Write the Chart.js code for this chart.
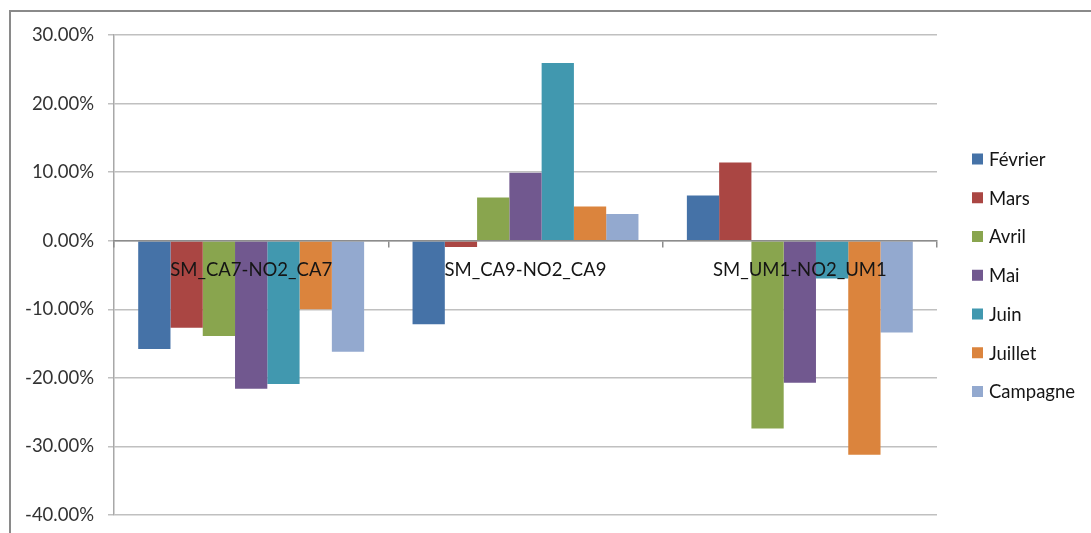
<!DOCTYPE html>
<html>
<head>
<meta charset="utf-8">
<script src="https://cdn.jsdelivr.net/npm/chart.js@4/dist/chart.umd.min.js"></script>
<style>
  html, body { margin: 0; padding: 0; background: #ffffff; }
  #wrap { position: relative; width: 1091px; height: 533px; }
</style>
</head>
<body>
<div id="wrap"><canvas id="c" width="1091" height="533"></canvas></div>
<script>
// Stations (categories) and monthly relative differences, in percent
const categories = ['SM_CA7-NO2_CA7', 'SM_CA9-NO2_CA9', 'SM_UM1-NO2_UM1'];
const fevrier  = [-15.8, -12.2,   6.6];
const mars     = [-12.7,  -0.9,  11.4];
const avril    = [-13.9,   6.3, -27.4];
const mai      = [-21.6,   9.9, -20.7];
const juin     = [-20.9,  25.9,  -5.5];
const juillet  = [-10.0,   5.0, -31.2];
const campagne = [-16.2,   3.9, -13.4];
const seriesNames = ['Février', 'Mars', 'Avril', 'Mai', 'Juin', 'Juillet', 'Campagne'];
const yTicks = [30, 20, 10, 0, -10, -20, -30, -40];

const seriesValues = [fevrier, mars, avril, mai, juin, juillet, campagne];
const seriesColors = ['#4572A7', '#AA4643', '#89A54E', '#71588F', '#4198AF', '#DB843D', '#93A9CF'];

const FONT = 'Lato, "Liberation Sans", Arial, sans-serif';
const FONT_SIZE = 18.5;
const TEXT = '#151515';
const TICK_TEXT = '#333333';

// Outer frame of the chart object
const framePlugin = {
  id: 'frame',
  beforeDraw(chart) {
    const ctx = chart.ctx;
    ctx.save();
    ctx.fillStyle = '#ffffff';
    ctx.fillRect(0, 0, chart.width, chart.height);
    ctx.strokeStyle = '#8a8a8a';
    ctx.lineWidth = 2;
    ctx.strokeRect(10, 11, 1100, 560);
    ctx.restore();
  }
};

// Vertical legend on the right, built from the datasets
const sideLegend = {
  id: 'sideLegend',
  afterDraw(chart) {
    const ctx = chart.ctx;
    ctx.save();
    ctx.font = FONT_SIZE + 'px ' + FONT;
    ctx.textBaseline = 'middle';
    ctx.textAlign = 'left';
    chart.data.datasets.forEach((ds, i) => {
      const y = 159 + i * 38.75;
      ctx.fillStyle = ds.backgroundColor;
      ctx.fillRect(972, y - 5.5, 11, 11);
      ctx.fillStyle = TEXT;
      ctx.fillText(ds.label, 989, y + 1);
    });
    ctx.restore();
  }
};

new Chart(document.getElementById('c'), {
  type: 'bar',
  data: {
    labels: categories,
    datasets: seriesNames.map((name, i) => ({
      label: name,
      data: seriesValues[i],
      backgroundColor: seriesColors[i],
      borderWidth: 0,
      categoryPercentage: 7 / 8.5,
      barPercentage: 1
    }))
  },
  options: {
    responsive: false,
    animation: false,
    devicePixelRatio: 1,
    layout: { padding: { left: 0, top: 35, right: 154, bottom: 18 } },
    plugins: {
      legend: { display: false },
      tooltip: { enabled: false }
    },
    scales: {
      x: {
        position: { y: 0 },
        afterFit(scale) { scale.height = 0; },
        grid: {
          offset: true,
          drawOnChartArea: false,
          drawTicks: true,
          tickLength: 6,
          color: '#8c8c8c',
          lineWidth: 1.5,
          z: 1
        },
        border: { display: true, color: '#8c8c8c', width: 1.5, z: 1 },
        ticks: {
          color: TEXT,
          font: { family: FONT, size: FONT_SIZE },
          padding: 12,
          maxRotation: 0,
          autoSkip: false,
          z: 1
        }
      },
      y: {
        min: -40,
        max: 30,
        afterFit(scale) {
          scale.width = 114;
          scale.paddingTop = 0;
          scale.paddingBottom = 0;
        },
        afterBuildTicks(scale) { scale.ticks = yTicks.map(v => ({ value: v })); },
        grid: {
          color: '#c0c0c0',
          lineWidth: 1.5,
          tickLength: 6,
          drawTicks: true
        },
        border: { display: true, color: '#a8a8a8', width: 1.5 },
        ticks: {
          color: TICK_TEXT,
          font: { family: FONT, size: FONT_SIZE },
          padding: 14,
          callback: (v) => Number(v).toFixed(2) + '%'
        }
      }
    }
  },
  plugins: [framePlugin, sideLegend]
});
</script>
</body>
</html>
